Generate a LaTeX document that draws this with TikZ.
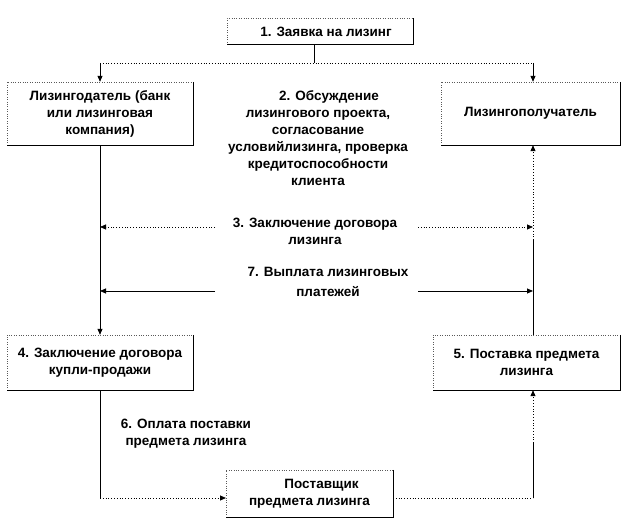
\documentclass[tikz,border=0pt]{standalone}
\usepackage{fontspec}
\setmainfont{Liberation Sans}
\usetikzlibrary{arrows.meta}
\newcommand\bxedge[1]{%
  \draw[dotted,gray!70!black] (#1.south west) -- (#1.north west) -- (#1.north east);
  \draw[black] (#1.north east) -- (#1.south east) -- (#1.south west);}
\tikzset{
  bx/.style={draw=none,fill=white,inner sep=0pt,align=center,font=\fontsize{13.5}{17}\selectfont\bfseries},
  lbl/.style={inner sep=0pt,align=center,font=\fontsize{13.5}{17}\selectfont\bfseries},
  tip/.style={-{Triangle[length=6pt,width=5pt]}},
  ln/.style={line width=0.8pt},
  dl/.style={line width=0.8pt,dotted}
}
\begin{document}
\begin{tikzpicture}[x=1pt,y=-1pt]
\useasboundingbox (0,0) rectangle (627,526);
\fill[white] (0,0) rectangle (627,526);
% boxes
\node[bx,minimum width=186,minimum height=26] (b1) at (320,31.5) {\hspace*{12pt}1. Заявка на лизинг};
\node[bx,minimum width=186,minimum height=63] (bL) at (100,113.5) {Лизингодатель (банк\\или лизинговая\\компания)};
\node[bx,minimum width=179,minimum height=63] (bR) at (530.5,113.5) {Лизингополучатель};
\node[bx,minimum width=186,minimum height=55] (b4) at (100,362.5) {4. Заключение договора\\купли-продажи};
\node[bx,minimum width=187,minimum height=55] (b5) at (526.5,362.5) {5. Поставка предмета\\лизинга};
\node[bx,minimum width=167,minimum height=47] (bS) at (309.5,493.5) {\hspace*{24pt}Поставщик\\предмета лизинга};
\bxedge{b1}\bxedge{bL}\bxedge{bR}\bxedge{b4}\bxedge{b5}\bxedge{bS}
% labels
\node[lbl] (t2) at (318,138) {\hspace*{22pt}2. Обсуждение\\лизингового проекта,\\согласование\\условийлизинга, проверка\\кредитоспособности\\клиента};
\node[lbl] (t3) at (315,231) {3. Заключение договора\\лизинга};
\node[lbl,font=\fontsize{13.5}{20}\selectfont\bfseries] (t7) at (328,282) {7. Выплата лизинговых\\платежей};
\node[lbl] (t6) at (186,434) {6. Оплата поставки\\предмета лизинга};
% coordinates
\coordinate (tj) at (314,63);
\coordinate (tl) at (100,63);
\coordinate (tr) at (533,63);
\coordinate (rm) at (533,240);
\coordinate (l3a) at (215,227); \coordinate (l3b) at (100,227);
\coordinate (r3a) at (418,227); \coordinate (r3b) at (533,227);
\coordinate (l7a) at (215,291); \coordinate (l7b) at (100,291);
\coordinate (r7a) at (418,291); \coordinate (r7b) at (533,291);
\coordinate (bl) at (100,498);
\coordinate (sw) at (226,498);
\coordinate (se) at (393,498);
\coordinate (br) at (533,498);
\coordinate (bm) at (533,443);
% connectors
\draw[ln] (tj |- b1.south) -- (tj);
\draw[dl] (tl) -- (tr);
\draw[ln,tip] (tl) -- (bL.north);
\draw[ln,tip] (tr) -- (tr |- bR.north);
\draw[ln,tip] (bL.south) -- (b4.north);
\draw[ln] (rm |- b5.north) -- (rm);
\draw[dl,tip] (rm) -- (rm |- bR.south);
\draw[dl,tip] (l3a) -- (l3b);
\draw[dl,tip] (r3a) -- (r3b);
\draw[ln,tip] (l7a) -- (l7b);
\draw[ln,tip] (r7a) -- (r7b);
\draw[ln] (b4.south) -- (bl);
\draw[dl,tip] (bl) -- (sw);
\draw[dl] (se) -- (br);
\draw[ln] (br) -- (bm);
\draw[dl,tip] (bm) -- (bm |- b5.south);
\end{tikzpicture}
\end{document}
